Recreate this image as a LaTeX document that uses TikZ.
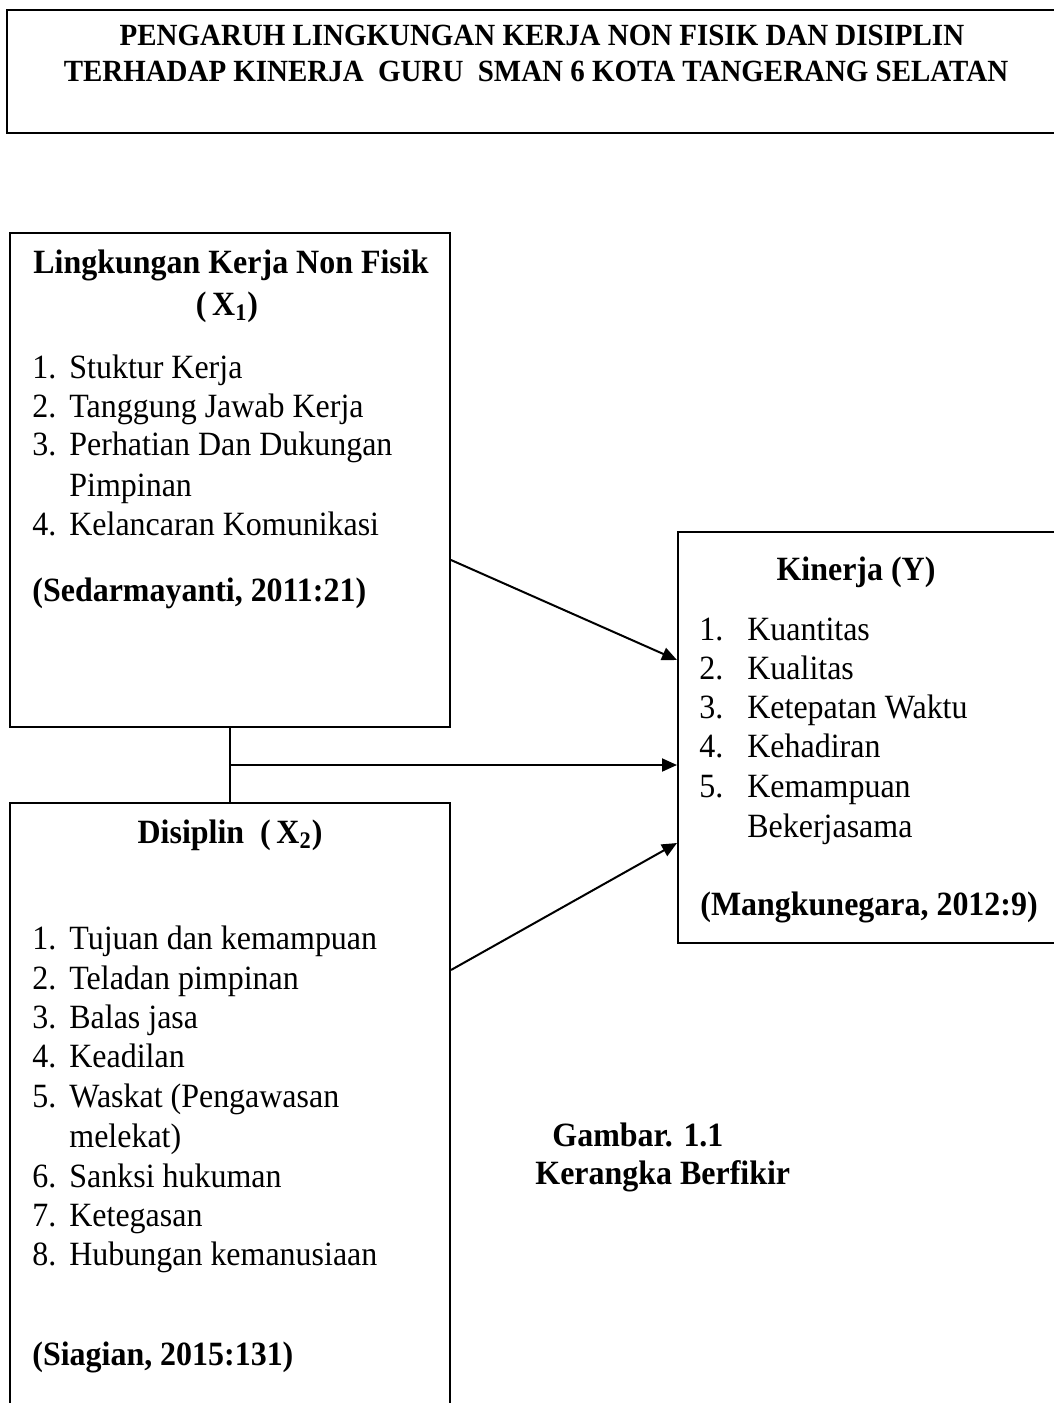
\documentclass[tikz,border=0pt]{standalone}
\usepackage{fontspec}
\setmainfont{Liberation Serif}[FakeStretch=0.94]
\usepackage{tikz}
\usetikzlibrary{arrows.meta, positioning}

\begin{document}
\fontsize{17}{20}\selectfont
\begin{tikzpicture}[
      x=0.5pt, y=-0.5pt,
      box/.style={rectangle, draw=black, line width=1pt, inner sep=0pt},
      judul/.style={inner sep=0pt, anchor=base, font=\fontsize{15.4}{19}\selectfont\bfseries},
      head/.style={inner sep=0pt, anchor=base, font=\bfseries},
      item/.style={inner sep=0pt, anchor=base west},
      ref/.style={inner sep=0pt, anchor=base west, font=\bfseries},
      arrow/.style={-{Triangle[length=7.5pt,width=6.5pt]}, line width=1pt},
    ]
    \useasboundingbox (0,0) rectangle (1054,1403);

    % title
    \node[box, minimum width=537pt, minimum height=61.5pt] (judulbox) at (543.5,71.5) {};
    \node[judul] (judul1) at (542,45) {PENGARUH LINGKUNGAN KERJA NON FISIK DAN DISIPLIN};
    \node[judul] (judul2) at (536,81) {TERHADAP KINERJA\ \ GURU\ \ SMAN 6 KOTA TANGERANG SELATAN};

    % X1
    \node[box, minimum width=220pt, minimum height=247pt] (x1) at (230,480) {};
    \node[head] (x1h) at (231,273) {Lingkungan Kerja Non Fisik};
    \node[head] (x1v) at (227,315) {(\,X\textsubscript{1})};
    \node[item] (x1n1) at (32,378) {1.};
    \node[item] (x1t1) at (69,378) {Stuktur Kerja};
    \node[item] (x1n2) at (32,417) {2.};
    \node[item] (x1t2) at (69,417) {Tanggung Jawab Kerja};
    \node[item] (x1n3) at (32,455) {3.};
    \node[item] (x1t3) at (69,455) {Perhatian Dan Dukungan};
    \node[item] (x1t3b) at (69,496) {Pimpinan};
    \node[item] (x1n4) at (32,535) {4.};
    \node[item] (x1t4) at (69,535) {Kelancaran Komunikasi};
    \node[ref] (x1ref) at (32,601) {(Sedarmayanti, 2011:21)};

    % X2
    \node[box, minimum width=220pt, minimum height=313.5pt] (x2) at (230,1116.5) {};
    \node[head] (x2h) at (230,843) {Disiplin\ \ (\,X\textsubscript{2})};
    \node[item] (x2n1) at (32,949) {1.};
    \node[item] (x2t1) at (69,949) {Tujuan dan kemampuan};
    \node[item] (x2n2) at (32,989) {2.};
    \node[item] (x2t2) at (69,989) {Teladan pimpinan};
    \node[item] (x2n3) at (32,1028) {3.};
    \node[item] (x2t3) at (69,1028) {Balas jasa};
    \node[item] (x2n4) at (32,1067) {4.};
    \node[item] (x2t4) at (69,1067) {Keadilan};
    \node[item] (x2n5) at (32,1107) {5.};
    \node[item] (x2t5) at (69,1107) {Waskat (Pengawasan};
    \node[item] (x2t5b) at (69,1147) {melekat)};
    \node[item] (x2n6) at (32,1187) {6.};
    \node[item] (x2t6) at (69,1187) {Sanksi hukuman};
    \node[item] (x2n7) at (32,1226) {7.};
    \node[item] (x2t7) at (69,1226) {Ketegasan};
    \node[item] (x2n8) at (32,1265) {8.};
    \node[item] (x2t8) at (69,1265) {Hubungan kemanusiaan};
    \node[ref] (x2ref) at (32,1365) {(Siagian, 2015:131)};

    % Y
    \node[box, minimum width=201pt, minimum height=205.5pt] (ybox) at (879,737.5) {};
    \node[head] (yh) at (856,580) {Kinerja (Y)};
    \node[item] (yn1) at (699,640) {1.};
    \node[item] (yt1) at (747,640) {Kuantitas};
    \node[item] (yn2) at (699,679) {2.};
    \node[item] (yt2) at (747,679) {Kualitas};
    \node[item] (yn3) at (699,718) {3.};
    \node[item] (yt3) at (747,718) {Ketepatan Waktu};
    \node[item] (yn4) at (699,757) {4.};
    \node[item] (yt4) at (747,757) {Kehadiran};
    \node[item] (yn5) at (699,797) {5.};
    \node[item] (yt5) at (747,797) {Kemampuan};
    \node[item] (yt5b) at (747,837) {Bekerjasama};
    \node[ref] (yref) at (700,915) {(Mangkunegara, 2012:9)};

    % caption
    \node[ref] (gambar) at (552,1146) {Gambar. 1.1};
    \node[ref] (kerangka) at (535,1184) {Kerangka Berfikir};

    % connectors
    \draw[line width=1pt] (x1.south) -- coordinate[midway] (mid) (x2.north);
    \draw[arrow] (mid) -- (mid -| ybox.west);
    \draw[arrow] (x1.east |- 0,560) -- (ybox.west |- 0,660);
    \draw[arrow] (x2.east |- 0,970) -- (ybox.west |- 0,843);
  \end{tikzpicture}
\end{document}
